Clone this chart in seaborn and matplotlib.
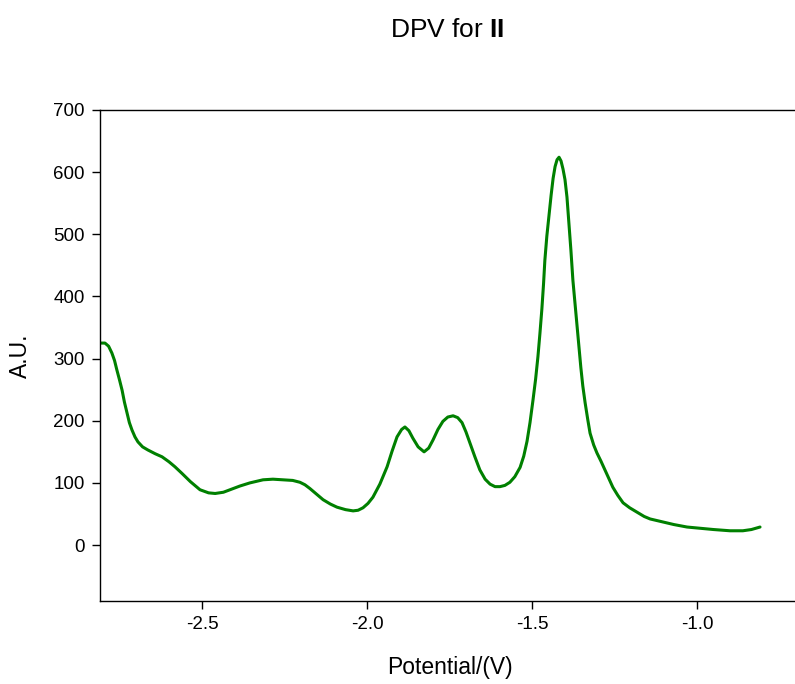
import matplotlib
matplotlib.use("Agg")
import matplotlib.pyplot as plt
import pandas as pd
import seaborn as sns

# DPV curve (potential in V, response in A.U.)
potential = [-2.809, -2.794, -2.783, -2.773, -2.765, -2.758, -2.750, -2.742, -2.735, -2.727,
             -2.720, -2.712, -2.703, -2.694, -2.680, -2.664, -2.642, -2.621, -2.600, -2.582,
             -2.560, -2.535, -2.506, -2.480, -2.460, -2.435, -2.415, -2.385, -2.355, -2.315,
             -2.285, -2.255, -2.225, -2.203, -2.188, -2.173, -2.153, -2.133, -2.111, -2.091,
             -2.065, -2.042, -2.027, -2.012, -1.997, -1.982, -1.961, -1.939, -1.924, -1.909,
             -1.895, -1.885, -1.873, -1.861, -1.845, -1.827, -1.813, -1.800, -1.785, -1.770,
             -1.755, -1.739, -1.725, -1.712, -1.700, -1.688, -1.673, -1.658, -1.642, -1.627,
             -1.612, -1.597, -1.582, -1.567, -1.552, -1.536, -1.525, -1.515, -1.506, -1.497,
             -1.489, -1.482, -1.476, -1.470, -1.465, -1.461, -1.455, -1.448, -1.442, -1.436,
             -1.430, -1.424, -1.418, -1.412, -1.406, -1.400, -1.394, -1.388, -1.382, -1.376,
             -1.370, -1.364, -1.358, -1.352, -1.346, -1.339, -1.331, -1.324, -1.313, -1.303,
             -1.291, -1.279, -1.267, -1.255, -1.240, -1.224, -1.204, -1.182, -1.160, -1.142,
             -1.110, -1.070, -1.030, -0.991, -0.950, -0.900, -0.861, -0.835, -0.809]
response = [325, 325, 320, 309, 297, 282, 266, 249, 230, 212,
            197, 185, 174, 166, 158, 153, 147, 142, 134, 126,
            115, 102, 89, 84, 83, 85, 89, 95, 100, 105,
            106, 105, 104, 101, 97, 91, 82, 73, 66, 61,
            57, 55, 56, 60, 67, 77, 98, 126, 151, 174,
            186, 190, 184, 172, 158, 150, 156, 169, 186, 199,
            206, 208, 205, 197, 182, 164, 142, 121, 106, 98,
            94, 94, 96, 101, 110, 125, 143, 167, 197, 233,
            267, 303, 340, 380, 420, 458, 497, 533, 563, 590,
            609, 620, 624, 618, 605, 588, 560, 518, 474, 426,
            391, 357, 321, 286, 256, 229, 202, 180, 161, 148,
            135, 121, 107, 93, 80, 68, 60, 53, 46, 42,
            38, 33, 29, 27, 25, 23, 23, 25, 29]

x_ticks = [-2.5, -2.0, -1.5, -1.0]
y_ticks = [0, 100, 200, 300, 400, 500, 600, 700]

df = pd.DataFrame({"Potential": potential, "AU": response})

sns.set_style("ticks")
plt.rcParams["font.family"] = ["Liberation Sans", "DejaVu Sans"]
plt.rcParams["mathtext.fontset"] = "custom"
plt.rcParams["mathtext.rm"] = "Liberation Sans"
plt.rcParams["mathtext.bf"] = "Liberation Sans:bold"

fig = plt.figure(figsize=(7.95, 6.84), dpi=100)
ax = fig.add_axes([100 / 795, 83 / 684, 1 - 100 / 795, 491 / 684])

sns.lineplot(data=df, x="Potential", y="AU", color="#008000", linewidth=2.2, ax=ax, sort=False)

ax.set_xlim(-2.809, -0.703)
ax.set_ylim(-90, 700)
ax.set_xticks(x_ticks)
ax.set_xticklabels([f"{t:.1f}" for t in x_ticks])
ax.set_yticks(y_ticks)

ax.spines["right"].set_visible(False)
for s in ["left", "bottom", "top"]:
    ax.spines[s].set_color("black")
    ax.spines[s].set_linewidth(1.0)
ax.tick_params(axis="both", direction="out", length=6, width=1, labelsize=13.5,
               colors="black", labelcolor="black", pad=5)

ax.set_xlabel("Potential/(V)", fontsize=16.5, color="black")
ax.set_ylabel("A.U.", fontsize=16.5, color="black")
ax.xaxis.set_label_coords(0.504, -0.112)
ax.yaxis.set_label_coords(-0.098, 0.5)

fig.text(447 / 795, 1 - 30 / 684, r"DPV for $\mathbf{II}$", ha="center", va="center",
         fontsize=19, color="black")

fig.savefig("out.png", dpi=100)
